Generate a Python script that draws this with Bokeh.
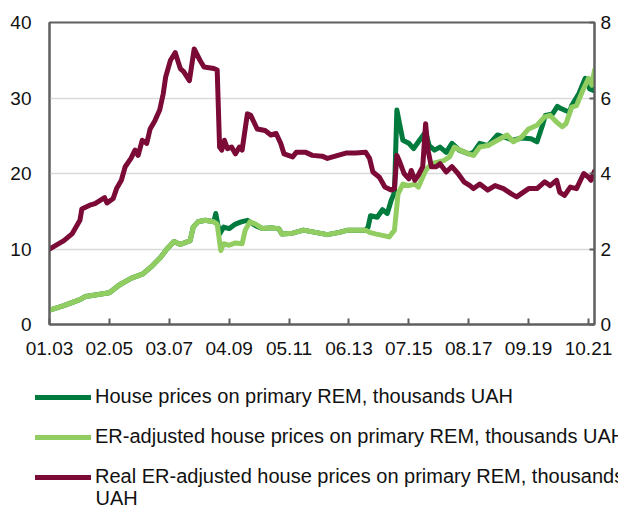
from bokeh.plotting import figure
from bokeh.models import Range1d, LinearAxis, FixedTicker, Legend, LegendItem, Label
from bokeh.layouts import column
from bokeh.embed import file_html
from bokeh.resources import INLINE

# Month index: 0 = Jan 2003
tick_pos = [0, 25, 50, 75, 100, 125, 150, 175, 200, 225]
tick_labels = ["01.03", "02.05", "03.07", "04.09", "05.11", "06.13", "07.15", "08.17", "09.19", "10.21"]

nom_x = [0, 6, 12.7, 15, 21, 25, 29, 34, 39, 43, 46.4, 49, 52, 54.6, 58.7, 60, 62, 65, 68.6, 69.4, 71, 72.7, 75,
         77.6, 80, 82.6, 86, 89, 93, 95.7, 97, 101.5, 106, 111, 116, 121, 124.5, 132, 133, 134, 136.8, 139, 141,
         142.6, 144, 145, 146, 147.5, 150, 152, 154, 157, 158.5, 160.7, 163, 165.6, 168, 171, 175, 177, 179.6,
         183, 187, 190, 193.6, 197, 201, 203.5, 206, 207, 210, 212, 213.5, 217, 218, 221, 223.6, 225.5, 227, 227.5]
nom_y = [1.9, 2.5, 3.3, 3.7, 4.0, 4.2, 5.2, 6.1, 6.7, 7.8, 8.9, 10.0, 11.0, 10.6, 11.1, 12.9, 13.6, 13.8, 13.6, 14.7,
         12.0, 12.9, 12.7, 13.3, 13.6, 13.8, 13.1, 12.7, 12.8, 12.7, 12.0, 12.1, 12.5, 12.2, 11.9, 12.2, 12.5, 12.5,
         12.9, 14.4, 14.2, 15.2, 14.7, 16.4, 17.5, 28.4, 26.8, 24.4, 24.0, 23.3, 24.2, 25.5, 23.7, 23.1, 23.5, 22.8,
         24.0, 23.1, 22.6, 22.8, 24.0, 23.7, 25.1, 24.8, 24.4, 24.7, 24.6, 24.2, 26.6, 27.7, 27.9, 28.9, 28.6, 28.1,
         29.0, 30.6, 32.6, 31.2, 31.0, 32.3]

er_x = [0, 6, 12.7, 15, 21, 25, 29, 34, 39, 43, 46.4, 49, 52, 54.6, 58.7, 60, 62, 65, 68.6, 70, 71.5, 72.7, 75, 77.6,
        80.4, 81.7, 83.7, 86, 89, 93, 95.7, 97, 101.5, 106, 111, 116, 121, 124.5, 132, 133.6, 136, 139, 141.8, 144,
        145.5, 147.5, 150, 152.5, 154, 157, 159.5, 162, 164.5, 167, 169, 171.4, 175, 177, 179.6, 183, 187, 191,
        193.6, 197, 200, 203.5, 206.7, 209, 211.7, 214, 215.6, 218, 220, 222.6, 225, 226.4, 227.5]
er_y = [1.9, 2.5, 3.3, 3.7, 4.0, 4.2, 5.2, 6.1, 6.7, 7.8, 8.9, 10.0, 11.0, 10.6, 11.1, 12.9, 13.6, 13.8, 13.6, 13.3,
        9.8, 10.7, 10.5, 10.8, 10.7, 12.5, 13.6, 13.3, 12.7, 12.8, 12.7, 12.0, 12.1, 12.5, 12.2, 11.9, 12.2, 12.5,
        12.5, 12.2, 12.0, 11.8, 11.6, 12.5, 17.3, 18.6, 18.4, 18.6, 18.2, 20.4, 21.3, 21.5, 21.7, 22.2, 23.5, 23.1,
        22.6, 22.4, 23.5, 23.7, 24.4, 25.1, 24.2, 24.8, 25.9, 26.4, 27.5, 27.7, 26.8, 26.2, 26.6, 28.8, 29.0, 31.0,
        32.6, 31.7, 33.7]

real_x = [0, 6, 9.4, 12.7, 13.5, 16.8, 19, 21, 23, 24, 26.6, 28, 30, 31.6, 34, 35.7, 37, 38.7, 40.6, 42, 44, 46,
          47.5, 48.5, 50.5, 52.5, 54.6, 56, 58.4, 60.4, 62.8, 64.5, 68.6, 70, 71, 71.9, 73, 74.3, 76, 77.6, 79.3,
          80.4, 82.6, 84, 86.7, 90, 92.4, 94.6, 96.5, 97.9, 101.5, 103, 107, 109.7, 113.8, 116, 120.4, 123.7, 127.8,
          132, 133.6, 135, 137.7, 140, 142.6, 144, 145, 146, 148, 150, 151, 152.5, 154, 155.8, 157, 158, 159.4,
          161.5, 163, 165.6, 168, 170.5, 173, 175.5, 177, 179.6, 182.9, 186, 189.5, 192.8, 195, 197.7, 200, 203.5,
          206.7, 209, 211.7, 213, 215, 217.4, 220, 223, 225, 226, 227.5]
real_y = [10.0, 11.1, 12.0, 13.8, 15.3, 15.8, 16.0, 16.4, 16.8, 16.1, 16.7, 18.0, 19.1, 20.9, 22.0, 23.1, 22.4, 24.4,
          24.0, 25.9, 27.0, 28.4, 30.6, 32.8, 35.0, 36.0, 33.9, 33.5, 32.3, 36.5, 35.0, 34.1, 33.9, 33.7, 23.5, 23.1,
          24.4, 23.3, 23.5, 22.6, 23.5, 23.1, 27.9, 27.7, 25.9, 25.7, 25.1, 25.3, 24.0, 22.6, 22.2, 22.8, 22.8, 22.4,
          22.3, 22.0, 22.4, 22.7, 22.7, 22.8, 22.0, 20.2, 19.5, 18.2, 17.8, 18.0, 22.4, 21.7, 20.0, 19.3, 20.4, 19.1,
          19.8, 20.9, 26.6, 23.1, 20.9, 20.9, 21.3, 20.2, 20.9, 20.0, 18.9, 18.4, 18.0, 18.6, 17.8, 18.4, 18.0, 17.3,
          16.9, 17.5, 18.0, 18.0, 18.9, 18.4, 19.1, 17.5, 17.1, 18.2, 18.0, 20.0, 19.5, 19.1, 20.3]

labels = ["House prices on primary REM, thousands UAH",
          "ER-adjusted house prices on primary REM, thousands UAH",
          "Real ER-adjusted house prices on primary REM, thousands"]
label_wrap = "UAH"
colors = ["#007a3d", "#92cd62", "#7b0a37"]

FONT = "Liberation Sans"
AXC = "#5f5f5f"
LW = 5

p = figure(width=618, height=372, output_backend="svg", toolbar_location=None,
           x_range=Range1d(0, 227.5), y_range=Range1d(0, 40),
           min_border_left=49, min_border_right=24, min_border_top=22, min_border_bottom=48)
p.frame_align = False
p.extra_y_ranges = {"r": Range1d(0, 8)}

p.outline_line_color = AXC
p.outline_line_width = 2
p.xgrid.visible = False
p.ygrid.ticker = FixedTicker(ticks=[10, 20, 30])
p.ygrid.grid_line_color = "#d9d9d9"
p.ygrid.grid_line_width = 1.5

xa = p.xaxis[0]
xa.ticker = FixedTicker(ticks=tick_pos)
xa.major_label_overrides = {t: l for t, l in zip(tick_pos, tick_labels)}
xa.major_tick_in = 6
xa.major_tick_out = 0
xa.minor_tick_line_color = None
xa.axis_line_color = AXC
xa.axis_line_width = 2
xa.major_tick_line_color = AXC
xa.major_tick_line_width = 2
xa.major_label_text_font = FONT
xa.major_label_text_font_size = "19px"
xa.major_label_text_color = "#111111"
xa.major_label_standoff = 17

ya = p.yaxis[0]
ya.ticker = FixedTicker(ticks=[0, 10, 20, 30, 40])
ya.major_tick_in = 0
ya.major_tick_out = 0
ya.minor_tick_line_color = None
ya.axis_line_color = AXC
ya.axis_line_width = 2
ya.major_label_text_font = FONT
ya.major_label_text_font_size = "19px"
ya.major_label_text_color = "#111111"
ya.major_label_standoff = 18

ra = LinearAxis(y_range_name="r", ticker=FixedTicker(ticks=[0, 2, 4, 6, 8]))
ra.major_tick_in = 5
ra.major_tick_out = 0
ra.minor_tick_line_color = None
ra.axis_line_color = AXC
ra.axis_line_width = 2
ra.major_tick_line_color = AXC
ra.major_tick_line_width = 2
ra.major_label_text_font = FONT
ra.major_label_text_font_size = "19px"
ra.major_label_text_color = "#111111"
ra.major_label_standoff = 6
p.add_layout(ra, "right")

series = [(nom_x, nom_y), (er_x, er_y), (real_x, real_y)]
for (sx, sy), c in zip(series, colors):
    p.line(sx, sy, line_color=c, line_width=LW, line_join="round", line_cap="round")

# Legend panel below the chart (its lines reuse the series but lie outside its view)
lg = figure(width=618, height=135, output_backend="svg", toolbar_location=None,
            x_range=Range1d(0, 227.5), y_range=Range1d(1000, 1001),
            x_axis_location=None, y_axis_location=None,
            min_border_left=0, min_border_right=0, min_border_top=0, min_border_bottom=0)
lg.frame_align = False
lg.grid.visible = False
lg.outline_line_color = None
rs = [lg.line(sx, sy, line_color=c, line_width=LW, line_cap="round") for (sx, sy), c in zip(series, colors)]

legend = Legend(items=[LegendItem(label=l, renderers=[r]) for l, r in zip(labels, rs)],
                location=(35, 19), orientation="vertical",
                border_line_color=None, background_fill_alpha=0,
                glyph_width=56, glyph_height=20, label_height=20, label_standoff=4,
                label_text_font=FONT, label_text_font_size="20px", label_text_color="#111111",
                spacing=17, padding=0, margin=0)
lg.add_layout(legend, "center")
lg.add_layout(Label(x=95, y=10, x_units="screen", y_units="screen", text=label_wrap,
                    text_font=FONT, text_font_size="20px", text_color="#111111",
                    text_baseline="middle", text_align="left"))

layout = column(p, lg, spacing=0)
open("out.html", "w").write(file_html(layout, INLINE))
